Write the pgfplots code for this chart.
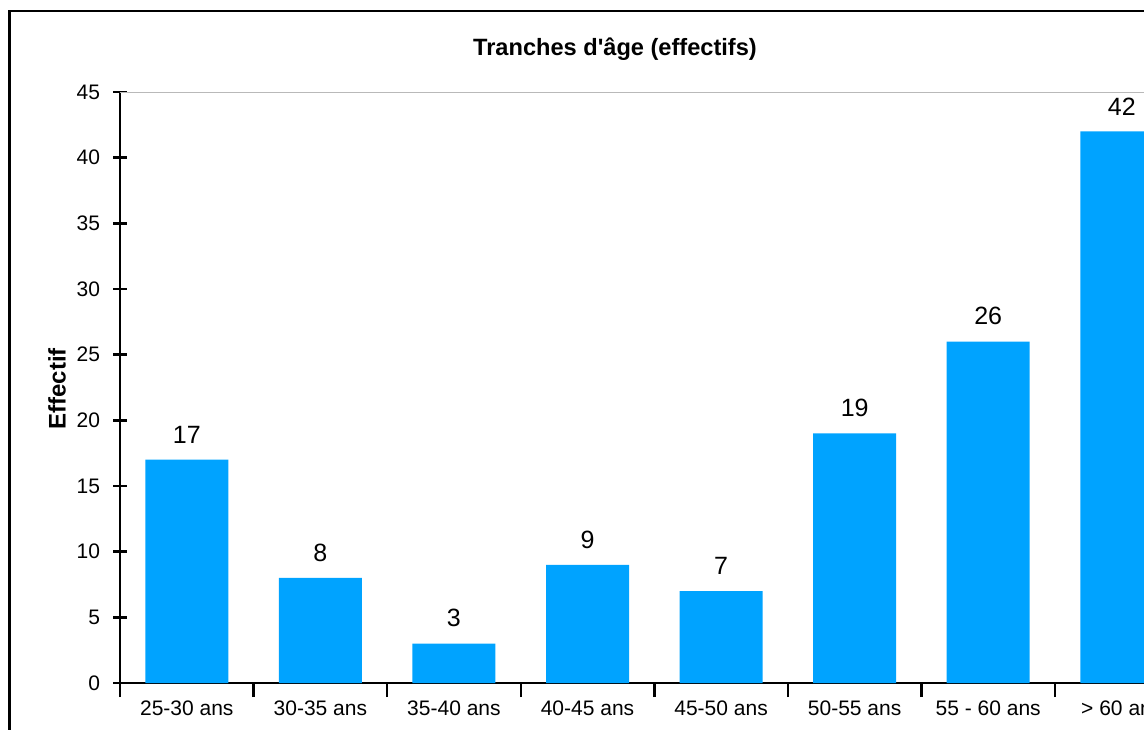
\documentclass[border=0pt]{standalone}
\usepackage{fontspec}
\setmainfont{Liberation Sans}
\newfontfamily\plainsans{Liberation Sans}[Ligatures=ResetAll]
\usepackage{pgfplots}
\pgfplotsset{compat=1.18}
\definecolor{barblue}{RGB}{0,163,255}
\begin{document}
\begin{tikzpicture}
\useasboundingbox (0,0) rectangle (572pt,364.5pt);
\clip (0,0) rectangle (572pt,364.5pt);
\begin{axis}[
  at={(60pt,23pt)}, anchor=south west,
  scale only axis,
  width=534.3pt, height=295.5pt,
  xmin=-0.5, xmax=7.5,
  ymin=0, ymax=45,
  ytick={0,5,...,45},
  xtick={-0.5,0.5,...,7.5},
  xticklabels={},
  extra x ticks={0,1,2,3,4,5,6,7},
  extra x tick labels={25-30 ans,30-35 ans,35-40 ans,40-45 ans,45-50 ans,50-55 ans,55 - 60 ans,> 60 ans},
  extra x tick style={major tick length=0pt},
  axis x line*=bottom,
  axis y line*=left,
  axis line style={line width=1.2pt, -},
  tick style={line width=1.2pt, black},
  tick align=center,
  major tick length=7pt,
  /pgf/number format/assume math mode=true,
  ticklabel style={font=\fontsize{10.5}{12}\selectfont},
  yticklabel style={xshift=-3pt},
  xticklabel style={yshift=-5.5pt},
  ybar, bar width=41.5pt,
  nodes near coords,
  every node near coord/.append style={font=\fontsize{12.5}{14}\selectfont, anchor=south, inner sep=0pt, yshift=8pt},
]
\draw[gray!55, line width=1.2pt] (axis cs:-0.5,45) -- (axis cs:7.5,45);
\addplot[fill=barblue, draw=none] coordinates {(0,17) (1,8) (2,3) (3,9) (4,7) (5,19) (6,26) (7,42)};
\end{axis}
\draw[line width=1.1pt] (4.75pt,-20pt) rectangle (650pt,358.9pt);
\node[font=\plainsans\bfseries\fontsize{11.8}{14}\selectfont] at (307.5pt,340pt) {Tranches d'âge (effectifs)};
\node[font=\bfseries\fontsize{12}{14}\selectfont, rotate=90] at (28.5pt,170pt) {Effectif};
\end{tikzpicture}
\end{document}
